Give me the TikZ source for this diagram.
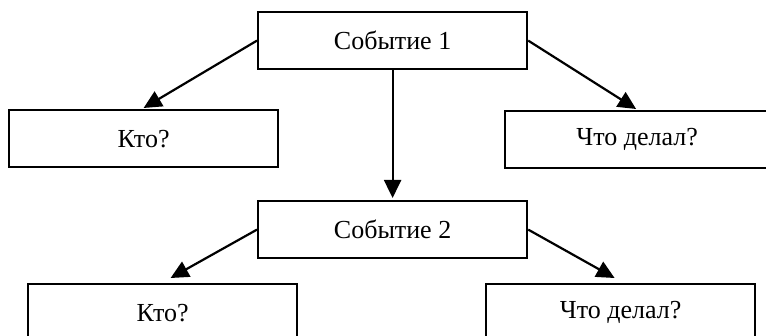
\documentclass[tikz,border=0pt]{standalone}
\usepackage{fontspec}
\setmainfont{Liberation Serif}
\usetikzlibrary{arrows.meta,calc}
\begin{document}
\begin{tikzpicture}[x=1pt,y=-1pt,
  box/.style={draw=black,line width=2.2pt,fill=white,minimum width=269pt,minimum height=57pt,inner sep=0pt,font=\fontsize{26}{31}\selectfont,anchor=north west},
  arr/.style={line width=2.2pt,-{Triangle[length=18pt,width=17pt]}}]
\useasboundingbox (0,0) rectangle (766,336);
\clip (0,0) rectangle (766,336);
\node[box] (e1) at (257,11) {Событие 1};
\node[box] (k1) at (8,109) {Кто?};
\node[box,minimum width=270pt] (w1) at (504,110) {\hspace*{-6pt}Что делал?};
\node[box] (e2) at (257,200) {Событие 2};
\node[box] (k2) at (27,283) {Кто?};
\node[box] (w2) at (485,283) {Что делал?};
\draw[arr] (e1.west) -- ($(k1.north)+(0,-1)$);
\draw[arr] (e1.east) -- ($(w1.north)+(-4,-1)$);
\draw[arr] (e1.south) -- ($(e2.north)+(0,-2)$);
\draw[arr] (e2.west) -- ($(k2.north)+(8,-5)$);
\draw[arr] (e2.east) -- ($(w2.north)+(-6,-5)$);
\end{tikzpicture}
\end{document}
